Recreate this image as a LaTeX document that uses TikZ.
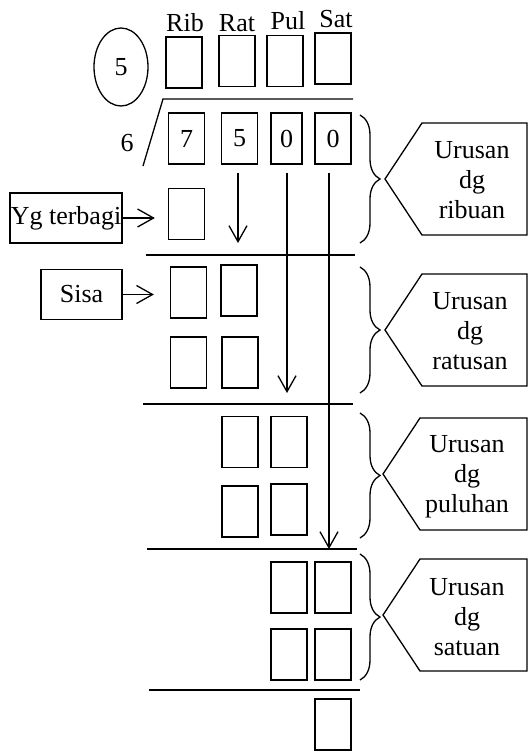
\documentclass[tikz,border=0pt]{standalone}
\usepackage{fontspec}
\setmainfont{Liberation Serif}
\usetikzlibrary{arrows.meta,shapes.geometric,decorations.pathreplacing}

\begin{document}
\begin{tikzpicture}[
  x=0.5pt, y=-0.5pt,
  line width=0.65pt,
  >={Straight Barb[length=8pt,width=9pt]},
  every node/.style={font=\fontsize{13}{15}\selectfont},
  cell/.style={draw, rectangle, inner sep=0pt, minimum width=18pt, minimum height=25.5pt},
  tag/.style={draw, rectangle, inner sep=0pt, minimum height=25pt},
  urusan/.style={align=center, inner sep=0pt},
  curly/.style={decorate, decoration={brace, amplitude=10pt}}
]
  \useasboundingbox (0,0) rectangle (529,751);

  % Column headings
  \node[anchor=base] (hrib) at (185,31) {Rib};
  \node[anchor=base] (hrat) at (237,31) {Rat};
  \node[anchor=base] (hpul) at (288,29) {Pul};
  \node[anchor=base] (hsat) at (336,27) {Sat};

  % Quotient row and divisor
  \node[draw, ellipse, inner sep=0pt, minimum width=27pt, minimum height=39pt] (five) at (121,67) {5};
  \node[cell] (q1) at (184,62.5) {};
  \node[cell] (q2) at (237,61) {};
  \node[cell] (q3) at (285,61) {};
  \node[cell] (q4) at (333,58.5) {};

  % Dividend row
  \node (six) at (127,143) {6};
  \node[cell] (d7) at (186.5,138.5) {7};
  \node[cell] (d5) at (239.5,138.5) {5};
  \node[cell, minimum width=15.5pt] (d0a) at (286.5,138.5) {0};
  \node[cell] (d0b) at (333,138.5) {0};
  \draw (143,166) -- (163,99) -- (353,99);

  % Ribuan
  \node[tag, minimum width=56pt] (ygb) at (66,218) {Yg terbagi};
  \node[cell] (yb) at (186.5,214) {};
  \draw[->, shorten >=6.5pt] (ygb.east) -- (ygb.east -| yb.west);
  \draw (146,255) -- (355,255);

  % Ratusan
  \node[tag, minimum width=40.5pt] (sisa) at (81.5,294.5) {Sisa};
  \node[cell] (r1) at (188.5,292.5) {};
  \node[cell] (r2) at (239,290.5) {};
  \node[cell] (r3) at (188.5,362.5) {};
  \node[cell] (r4) at (240,362.5) {};
  \draw[->, shorten >=8pt] (sisa.east) -- (sisa.east -| r1.west);
  \draw (143,404) -- (353,404);

  % Puluhan
  \node[cell] (p1) at (240,442) {};
  \node[cell] (p2) at (289,442) {};
  \node[cell] (p3) at (240,511.5) {};
  \node[cell] (p4) at (289,509.5) {};
  \draw (147,549) -- (357,549);

  % Satuan
  \node[cell] (s1) at (289,587.5) {};
  \node[cell] (s2) at (333,587.5) {};
  \node[cell] (s3) at (289,654.5) {};
  \node[cell] (s4) at (333,654.5) {};
  \draw (149,690) -- (360,690);
  \node[cell] (last) at (333,724.5) {};

  % Bring-down arrows
  \coordinate (ratEnd) at (238,243);
  \coordinate (pulEnd) at (287,393);
  \coordinate (satEnd) at (329,549);
  \draw[->, shorten <=4pt] (ratEnd |- d5.south) -- (ratEnd);
  \draw[->, shorten <=4pt] (pulEnd |- d0a.south) -- (pulEnd);
  \draw[->, shorten <=4pt] (satEnd |- d0b.south) -- (satEnd);

  % Braces
  \draw[curly] (360,115) -- (360,243);
  \draw[curly] (360,267) -- (360,393);
  \draw[curly] (360,413) -- (360,538);
  \draw[curly] (360,554) -- (360,680);

  % Labels
  \draw (385,179) -- (422,123) -- (527,123) -- (527,235) -- (422,235) -- cycle;
  \node[urusan] (uribu) at (472,180) {Urusan\\dg\\ribuan};
  \draw (385,330) -- (422,274) -- (527,274) -- (527,386) -- (422,386) -- cycle;
  \node[urusan] (uratus) at (470,331) {Urusan\\dg\\ratusan};
  \draw (383,474) -- (420,418) -- (527,418) -- (527,530) -- (420,530) -- cycle;
  \node[urusan] (upuluh) at (467,477) {Urusan\\dg\\puluhan};
  \draw (383,615) -- (420,559) -- (527,559) -- (527,671) -- (420,671) -- cycle;
  \node[urusan] (usatu) at (467,617) {Urusan\\dg\\satuan};

\end{tikzpicture}
\end{document}
